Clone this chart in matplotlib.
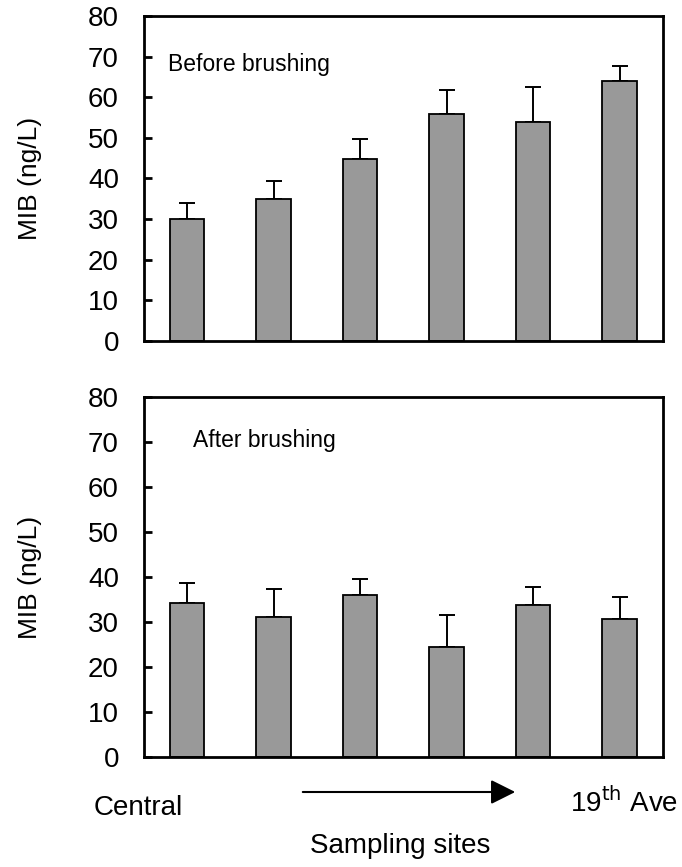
import matplotlib
matplotlib.use("Agg")
import matplotlib.pyplot as plt
import numpy as np

plt.rcParams['font.family'] = ['Liberation Sans', 'DejaVu Sans']

sites = np.arange(6)
before_mean = [30.0, 35.0, 44.9, 55.8, 53.9, 64.1]
before_err = [3.9, 4.5, 4.9, 5.9, 8.7, 3.5]
after_mean = [34.3, 31.1, 36.1, 24.5, 33.8, 30.7]
after_err = [4.4, 6.2, 3.5, 7.1, 4.0, 4.9]
yticks = [0, 10, 20, 30, 40, 50, 60, 70, 80]

fig = plt.figure(figsize=(6.82, 8.67), dpi=100)
ax1 = fig.add_axes([0.211, 0.6067, 0.761, 0.3749])
ax2 = fig.add_axes([0.211, 0.1269, 0.761, 0.4152])


def draw_panel(ax, means, errs, label, lx, ly):
    ax.bar(sites, means, width=0.4, color='#999999', edgecolor='black', linewidth=1.3, zorder=2)
    ax.errorbar(sites, means, yerr=[np.zeros(6), errs], fmt='none', ecolor='black',
                elinewidth=1.4, capsize=6, capthick=1.4, zorder=1)
    ax.set_xlim(-0.5, 5.5)
    ax.set_ylim(0, 80)
    ax.set_yticks(yticks)
    ax.set_xticks([])
    ax.tick_params(axis='y', direction='in', length=6, width=2, labelsize=20, pad=18)
    for s in ax.spines.values():
        s.set_linewidth(2)
    ax.set_ylabel('MIB (ng/L)', fontsize=19)
    ax.yaxis.set_label_coords(-0.197, 0.5)
    ax.text(lx, ly, label, transform=ax.transAxes, fontsize=16.5, va='center', ha='left')


draw_panel(ax1, before_mean, before_err, 'Before brushing', 0.046, 0.85)
draw_panel(ax2, after_mean, after_err, 'After brushing', 0.094, 0.88)

fig.text(138 / 682, 1 - 808 / 867, 'Central', fontsize=20, ha='center', va='center')
fig.text(624 / 682, 1 - 803 / 867, r'19$^{\mathrm{th}}$ Ave', fontsize=20, ha='center', va='center')
fig.text(400 / 682, 1 - 846 / 867, 'Sampling sites', fontsize=20, ha='center', va='center')
fig.patches.append(matplotlib.patches.FancyArrowPatch(
    (300 / 682, 1 - 792 / 867), (518 / 682, 1 - 792 / 867), transform=fig.transFigure,
    arrowstyle='-|>,head_length=1.0,head_width=0.5', mutation_scale=15, color='black', linewidth=1.5))

fig.savefig('out.png', dpi=100)
